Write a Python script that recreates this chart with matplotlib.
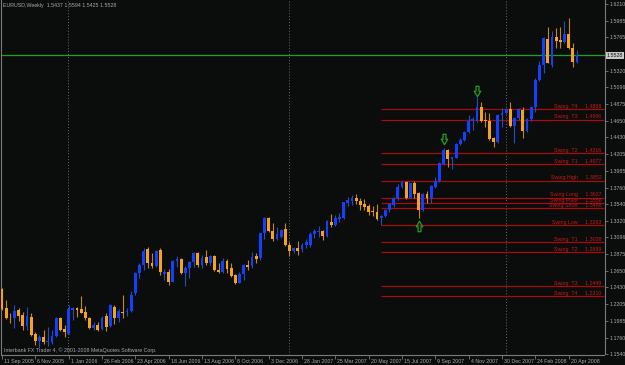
import matplotlib
matplotlib.use("Agg")
import matplotlib.pyplot as plt
import matplotlib.transforms as mtransforms
from matplotlib.path import Path
import numpy as np

# weekly EURUSD candles, 11 Sep 2005 .. 4 May 2008
opens = [1.2408, 1.2150, 1.2025, 1.2017, 1.2127, 1.2061, 1.1918, 1.2038, 1.1803, 1.1718,
         1.1767, 1.1705, 1.1705, 1.1785, 1.2025, 1.1870, 1.1807, 1.2127, 1.2158, 1.2141,
         1.2097, 1.2025, 1.1892, 1.1927, 1.1870, 1.2052, 1.1914, 1.2172, 1.2017, 1.2105,
         1.2097, 1.2114, 1.2358, 1.2625, 1.2728, 1.2941, 1.2759, 1.2719, 1.2928, 1.2604,
         1.2638, 1.2505, 1.2781, 1.2808, 1.2625, 1.2684, 1.2764, 1.2884, 1.2728, 1.2839,
         1.2751, 1.2848, 1.2661, 1.2631, 1.2781, 1.2684, 1.2595, 1.2492, 1.2604, 1.2728,
         1.2715, 1.2848, 1.2817, 1.3151, 1.3351, 1.3181, 1.3075, 1.3105, 1.3204, 1.2995,
         1.2919, 1.2959, 1.2935, 1.2990, 1.2995, 1.3137, 1.3172, 1.3181, 1.3115, 1.3305,
         1.3261, 1.3341, 1.3359, 1.3559, 1.3582, 1.3626, 1.3582, 1.3538, 1.3515, 1.3439,
         1.3439, 1.3351, 1.3382, 1.3462, 1.3528, 1.3618, 1.3772, 1.3839, 1.3626, 1.3818,
         1.3684, 1.3462, 1.3675, 1.3618, 1.3772, 1.3852, 1.4071, 1.4262, 1.4138, 1.4159,
         1.4338, 1.4395, 1.4498, 1.4653, 1.4653, 1.4832, 1.4662, 1.4649, 1.4418, 1.4365,
         1.4729, 1.4752, 1.4805, 1.4586, 1.4685, 1.4796, 1.4519, 1.4672, 1.4832, 1.5196,
         1.5396, 1.5743, 1.5396, 1.5765, 1.5729, 1.5707, 1.5805, 1.5619, 1.5437]
highs = [1.2420, 1.2261, 1.2084, 1.2194, 1.2150, 1.2105, 1.2172, 1.2084, 1.1838, 1.1794,
         1.1861, 1.1897, 1.1861, 1.2038, 1.2038, 1.1927, 1.2194, 1.2164, 1.2172, 1.2318,
         1.2185, 1.2038, 1.1964, 1.1964, 1.2052, 1.2084, 1.2204, 1.2194, 1.2137, 1.2328,
         1.2150, 1.2381, 1.2638, 1.2751, 1.2951, 1.2968, 1.2884, 1.2928, 1.2959, 1.2675,
         1.2675, 1.2795, 1.2852, 1.2817, 1.2715, 1.2781, 1.2905, 1.2905, 1.2861, 1.2928,
         1.2861, 1.2861, 1.2751, 1.2817, 1.2808, 1.2751, 1.2604, 1.2631, 1.2737, 1.2795,
         1.2897, 1.2884, 1.3159, 1.3364, 1.3364, 1.3284, 1.3239, 1.3208, 1.3284, 1.3031,
         1.2972, 1.3048, 1.3020, 1.3075, 1.3172, 1.3204, 1.3248, 1.3195, 1.3328, 1.3404,
         1.3395, 1.3426, 1.3572, 1.3639, 1.3662, 1.3675, 1.3618, 1.3608, 1.3538, 1.3515,
         1.3538, 1.3395, 1.3471, 1.3551, 1.3639, 1.3804, 1.3848, 1.3852, 1.3826, 1.3848,
         1.3706, 1.3684, 1.3715, 1.3795, 1.3906, 1.4106, 1.4293, 1.4271, 1.4173, 1.4351,
         1.4418, 1.4515, 1.4729, 1.4706, 1.4965, 1.4906, 1.4773, 1.4752, 1.4439, 1.4738,
         1.4818, 1.4818, 1.4906, 1.4698, 1.4818, 1.4840, 1.4685, 1.4840, 1.5219, 1.5453,
         1.5773, 1.5899, 1.5853, 1.5885, 1.5899, 1.5983, 1.6019, 1.5685, 1.5594]
lows = [1.2125, 1.2007, 1.1950, 1.1892, 1.1981, 1.1861, 1.1861, 1.1785, 1.1661, 1.1625,
        1.1670, 1.1652, 1.1670, 1.1771, 1.1847, 1.1771, 1.1803, 1.1994, 1.2038, 1.2084,
        1.1994, 1.1874, 1.1861, 1.1847, 1.1861, 1.1847, 1.1905, 1.1937, 1.1972, 1.2025,
        1.2052, 1.2105, 1.2328, 1.2550, 1.2661, 1.2688, 1.2684, 1.2705, 1.2595, 1.2528,
        1.2461, 1.2497, 1.2705, 1.2604, 1.2448, 1.2550, 1.2705, 1.2705, 1.2692, 1.2728,
        1.2728, 1.2648, 1.2617, 1.2617, 1.2617, 1.2572, 1.2470, 1.2484, 1.2528, 1.2661,
        1.2692, 1.2751, 1.2795, 1.3075, 1.3164, 1.3048, 1.3061, 1.3085, 1.2981, 1.2852,
        1.2884, 1.2861, 1.2900, 1.2960, 1.2968, 1.3085, 1.3105, 1.3061, 1.3105, 1.3239,
        1.3248, 1.3305, 1.3337, 1.3519, 1.3528, 1.3538, 1.3462, 1.3462, 1.3395, 1.3382,
        1.3328, 1.3263, 1.3372, 1.3439, 1.3506, 1.3595, 1.3751, 1.3604, 1.3618, 1.3618,
        1.3351, 1.3448, 1.3551, 1.3551, 1.3759, 1.3839, 1.4062, 1.4031, 1.4005, 1.4151,
        1.4329, 1.4386, 1.4485, 1.4529, 1.4640, 1.4631, 1.4573, 1.4395, 1.4306, 1.4360,
        1.4573, 1.4742, 1.4573, 1.4360, 1.4662, 1.4426, 1.4506, 1.4653, 1.4773, 1.5186,
        1.5285, 1.5419, 1.5373, 1.5619, 1.5627, 1.5685, 1.5605, 1.5365, 1.5425]
closes = [1.2137, 1.2017, 1.2015, 1.2118, 1.2052, 1.1918, 1.2048, 1.1794, 1.1714, 1.1767,
          1.1697, 1.1714, 1.1781, 1.2025, 1.1861, 1.1830, 1.2141, 1.2154, 1.2127, 1.2092,
          1.2017, 1.1883, 1.1927, 1.1861, 1.2025, 1.1905, 1.2194, 1.2025, 1.2114, 1.2092,
          1.2105, 1.2328, 1.2625, 1.2728, 1.2915, 1.2759, 1.2719, 1.2915, 1.2631, 1.2635,
          1.2505, 1.2781, 1.2808, 1.2617, 1.2692, 1.2764, 1.2884, 1.2728, 1.2817, 1.2751,
          1.2848, 1.2661, 1.2631, 1.2781, 1.2671, 1.2585, 1.2492, 1.2604, 1.2728, 1.2705,
          1.2839, 1.2808, 1.3151, 1.3351, 1.3181, 1.3075, 1.3137, 1.3195, 1.2995, 1.2919,
          1.2959, 1.2919, 1.2990, 1.3030, 1.3141, 1.3181, 1.3181, 1.3115, 1.3315, 1.3261,
          1.3351, 1.3364, 1.3564, 1.3595, 1.3626, 1.3582, 1.3528, 1.3506, 1.3431, 1.3431,
          1.3341, 1.3382, 1.3462, 1.3538, 1.3626, 1.3772, 1.3831, 1.3618, 1.3818, 1.3671,
          1.3462, 1.3675, 1.3618, 1.3782, 1.3852, 1.4085, 1.4262, 1.4142, 1.4165, 1.4342,
          1.4395, 1.4506, 1.4649, 1.4672, 1.4832, 1.4649, 1.4649, 1.4405, 1.4365, 1.4729,
          1.4752, 1.4805, 1.4586, 1.4685, 1.4805, 1.4519, 1.4672, 1.4832, 1.5196, 1.5396,
          1.5752, 1.5427, 1.5765, 1.5720, 1.5707, 1.5805, 1.5619, 1.5437, 1.5528]

date_labels = ["11 Sep 2005", "6 Nov 2005", "1 Jan 2006", "26 Feb 2006", "23 Apr 2006",
               "18 Jun 2006", "13 Aug 2006", "8 Oct 2006", "3 Dec 2006", "28 Jan 2007",
               "25 Mar 2007", "20 May 2007", "15 Jul 2007", "9 Sep 2007", "4 Nov 2007",
               "30 Dec 2007", "24 Feb 2008", "20 Apr 2008"]
price_ticks = [1.1540, 1.1760, 1.1985, 1.2205, 1.2430, 1.2650, 1.2875, 1.3096, 1.3320,
               1.3540, 1.3760, 1.3985, 1.4205, 1.4430, 1.4650, 1.4875, 1.5096, 1.5320,
               1.5540, 1.5765, 1.5985, 1.6210]
year_start_bars = [16, 69, 121]

swing_names = ["Swing  T4", "Swing  T3", "Swing  T2", "Swing  T1", "Swing High",
               "Swing Long", "Swing Pivot", "Swing Short", "Swing Low",
               "Swing  T1", "Swing  T2", "Swing  T3", "Swing  T4"]
swing_levels = [1.4808, 1.4666, 1.4216, 1.4077, 1.3852, 1.3627, 1.3558, 1.3488, 1.3263,
                1.3038, 1.2899, 1.2449, 1.2310]
swing_start_bar = 91

down_arrow_bars = [106, 114]
down_arrow_prices = [1.4411, 1.5049]
up_arrow_bars = [100]
up_arrow_prices = [1.3252]

BG = "#0b0d0d"
BULL = "#1240ff"
BEAR = "#f7a21b"
BULL_WICK = "#1f4fc0"
BEAR_WICK = "#c8860f"
FG = "#a8a8a8"
GRID = "#7a7a7a"
RED_LINE = "#a50c0c"
RED_TEXT = "#c81818"
GREEN = "#22a022"
FS = 3.8

plt.rcParams["font.family"] = ["Liberation Sans", "DejaVu Sans"]

o = np.array(opens)
h = np.array(highs)
l = np.array(lows)
c = np.array(closes)
idx = np.arange(len(o))
up = c >= o

fig = plt.figure(figsize=(6.25, 3.65), dpi=100, facecolor=BG)
ax = fig.add_axes([1 / 625, 10.5 / 365, 603.5 / 625, 354 / 365], facecolor=BG)
ax.set_xlim(-0.24, 144.6)
ax.set_ylim(1.1534, 1.6256)

for b in year_start_bars:
    ax.axvline(b - 0.1, color="#6a6a6a", lw=0.7, ls=(0, (1, 2)), zorder=1)

# candles
ax.vlines(idx[up], l[up], h[up], color=BULL_WICK, lw=0.8, zorder=2)
ax.vlines(idx[~up], l[~up], h[~up], color=BEAR_WICK, lw=0.8, zorder=2)
body_lo = np.minimum(o, c)
body_h = np.maximum(np.abs(c - o), 0.0012)
ax.bar(idx[up], body_h[up], bottom=body_lo[up], width=0.68, color=BULL, lw=0, zorder=3)
ax.bar(idx[~up], body_h[~up], bottom=body_lo[~up], width=0.68, color=BEAR, lw=0, zorder=3)

# bid line
ax.axhline(c[-1], color=GREEN, lw=0.9, zorder=1)

# swing levels
ax.hlines(swing_levels, swing_start_bar, 144.6, color=RED_LINE, lw=0.9, zorder=1)
trans = mtransforms.blended_transform_factory(ax.transAxes, ax.transData)
for name, lvl in zip(swing_names, swing_levels):
    ax.text(0.995, lvl + 0.0003, f"{name}     {lvl:.4f}", transform=trans, ha="right",
            va="bottom", fontsize=FS, color=RED_TEXT, zorder=4)

# arrows
down_path = Path([(-0.28, 1), (0.28, 1), (0.28, 0.05), (0.62, 0.05), (0, -1),
                  (-0.62, 0.05), (-0.28, 0.05), (-0.28, 1)], closed=True)
up_path = Path([(x, -y) for x, y in down_path.vertices], closed=True)
ax.plot(down_arrow_bars, down_arrow_prices, ls="none", marker=down_path, ms=7.5,
        mfc="none", mec=GREEN, mew=0.9, zorder=5)
ax.plot(up_arrow_bars, up_arrow_prices, ls="none", marker=up_path, ms=7.5,
        mfc="none", mec=GREEN, mew=0.9, zorder=5)

# axes styling
for side in ["left", "right", "bottom"]:
    ax.spines[side].set_color(GRID)
    ax.spines[side].set_linewidth(0.8)
ax.spines["top"].set_visible(False)

# the bid price box hides the tick label that sits under it
ax.yaxis.tick_right()
ax.set_yticks(price_ticks)
ax.set_yticklabels(["" if abs(p - c[-1]) < 0.004 else f"{p:.4f}" for p in price_ticks])
ax.tick_params(axis="y", direction="out", length=2, width=0.6, color=GRID,
               labelsize=FS, labelcolor=FG, pad=1.5)
ax.set_xticks(range(0, 8 * len(date_labels), 8))
ax.set_xticklabels(date_labels, ha="left")
ax.tick_params(axis="x", direction="out", length=3, width=0.6, color=GRID,
               labelsize=FS, labelcolor=FG, pad=0.5)
offset = mtransforms.ScaledTranslation(2 / 100, 0, fig.dpi_scale_trans)
for lab in ax.get_xticklabels():
    lab.set_transform(lab.get_transform() + offset)

# current price box
ax.text(1.004, c[-1], f"{c[-1]:.4f}", transform=trans, ha="left", va="center",
        fontsize=FS, color="#101010", zorder=6, clip_on=False,
        bbox=dict(boxstyle="square,pad=0.2", fc="#c8c8c8", ec="none"))

fig.text(3 / 625, 1 - 6 / 365, f"EURUSD,Weekly  {o[-1]:.4f} {h[-1]:.4f} {l[-1]:.4f} {c[-1]:.4f}",
         ha="left", va="center", fontsize=FS, color=FG)
fig.text(4 / 625, (365 - 350) / 365, "Interbank FX Trader 4, © 2001-2008 MetaQuotes Software Corp.",
         ha="left", va="center", fontsize=FS, color=FG)

fig.savefig("out.png", dpi=100, facecolor=BG)
plt.close(fig)
